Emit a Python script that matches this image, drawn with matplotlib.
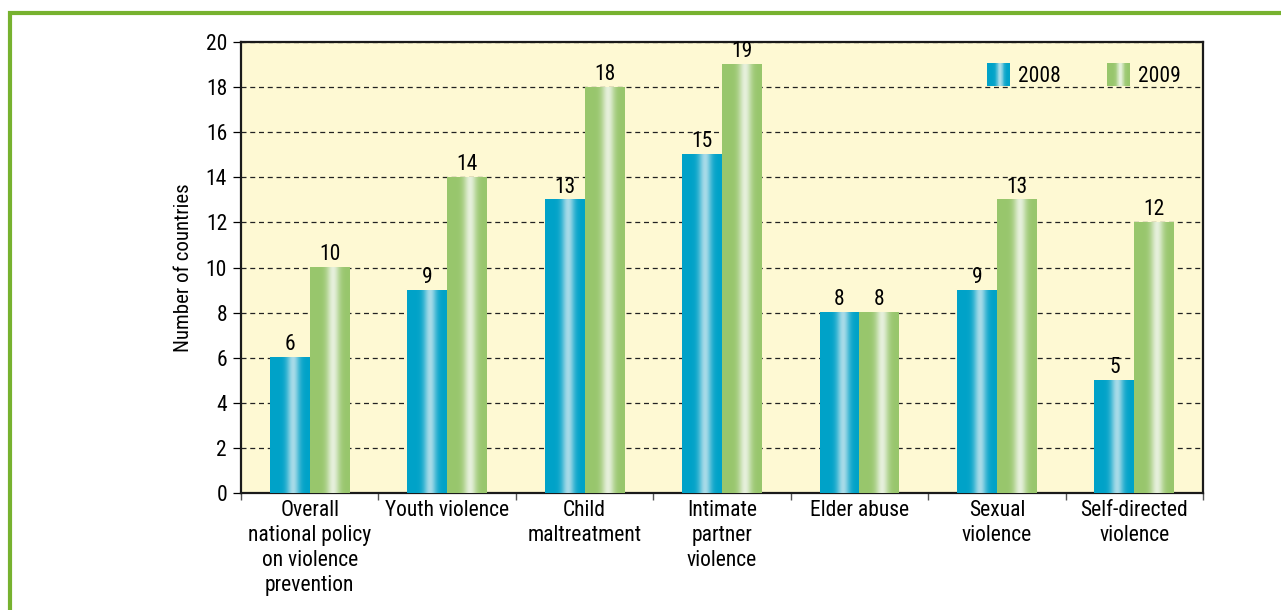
import numpy as np
import matplotlib
matplotlib.use("Agg")
import matplotlib.pyplot as plt
from matplotlib.patches import Rectangle
from matplotlib.legend_handler import HandlerBase
from matplotlib.colors import to_rgb

plt.rcParams['font.family'] = ['Roboto Condensed', 'Liberation Sans Narrow', 'Roboto', 'DejaVu Sans']
plt.rcParams['font.stretch'] = 'condensed'

# data
categories = ["Overall\nnational policy\non violence\nprevention", "Youth violence",
              "Child\nmaltreatment", "Intimate\npartner\nviolence", "Elder abuse",
              "Sexual\nviolence", "Self-directed\nviolence"]
values_2008 = [6, 9, 13, 15, 8, 9, 5]
values_2009 = [10, 14, 18, 19, 8, 13, 12]
series_names = ["2008", "2009"]

# colours: (edge colour, highlight colour)
blue = ("#00a2c8", "#a8dbe8")
green = ("#98c66c", "#e6f0dc")

FS = 15.5


def gradient_colors(base, light, n=60):
    b = np.array(to_rgb(base))
    l = np.array(to_rgb(light))
    t = np.linspace(0, 1, n)
    w = np.exp(-((t - 0.58) / 0.16) ** 2)
    return b[None, :] * (1 - w[:, None]) + l[None, :] * w[:, None]


def fill_gradient(ax, bar, colors):
    x, y = bar.get_x(), bar.get_y()
    w, h = bar.get_width(), bar.get_height()
    img = colors[None, :, :]
    ax.imshow(img, extent=(x, x + w, y, y + h), aspect='auto', zorder=3,
              interpolation='bicubic')


class GradientHandler(HandlerBase):
    def __init__(self, colors):
        super().__init__()
        self.colors = colors

    def create_artists(self, legend, orig_handle, xdescent, ydescent,
                       width, height, fontsize, trans):
        n = len(self.colors)
        size = height * 1.5
        x0 = -xdescent + (width - size) / 2
        y0 = -ydescent + (height - size) / 2
        arts = []
        for i, c in enumerate(self.colors):
            r = Rectangle((x0 + i * size / n, y0), size / n * 1.05, size,
                          facecolor=c, edgecolor='none', transform=trans)
            arts.append(r)
        return arts


fig = plt.figure(figsize=(12.81, 6.10), dpi=100)
ax = fig.add_axes([241 / 1281, 1 - 493 / 610, (1203 - 241) / 1281, (493 - 42) / 610])
ax.set_facecolor("#fef9d3")

x = np.arange(len(categories))
bw = 0.29
bars1 = ax.bar(x - bw / 2, values_2008, bw, color='none', zorder=2)
bars2 = ax.bar(x + bw / 2, values_2009, bw, color='none', zorder=2)

c1 = gradient_colors(*blue)
c2 = gradient_colors(*green)
for b in bars1:
    fill_gradient(ax, b, c1)
for b in bars2:
    fill_gradient(ax, b, c2)

for bars, vals in ((bars1, values_2008), (bars2, values_2009)):
    for b, v in zip(bars, vals):
        ax.text(b.get_x() + b.get_width() / 2, v + 0.1, str(v),
                ha='center', va='bottom', fontsize=FS, zorder=4)

ax.set_xlim(-0.5, len(categories) - 0.5)
ax.set_ylim(0, 20)
ax.set_yticks(range(0, 21, 2))
ax.yaxis.grid(True, linestyle=(0, (4, 3)), color='#222222', linewidth=0.9, zorder=1)
ax.set_axisbelow(True)

ax.set_xticks(x)
ax.set_xticklabels(categories, fontsize=FS, linespacing=1.25)
ax.set_xticks(np.arange(len(categories) + 1) - 0.5, minor=True)
ax.tick_params(axis='x', which='major', length=0, pad=5)
ax.tick_params(axis='x', which='minor', length=5, width=1, color='#555555')
ax.tick_params(axis='y', labelsize=FS, length=6, width=0.9, pad=4)
ax.set_ylabel("Number of countries", fontsize=15, labelpad=9)

for s in ax.spines.values():
    s.set_linewidth(1.6)
    s.set_color('#1a1a1a')

h1 = Rectangle((0, 0), 1, 1)
h2 = Rectangle((0, 0), 1, 1)
leg = ax.legend([h1, h2], series_names, loc='upper right', ncol=2, frameon=False,
                fontsize=FS, handlelength=1.6, handletextpad=0.1, columnspacing=1.9,
                bbox_to_anchor=(0.997, 0.99),
                handler_map={h1: GradientHandler(c1), h2: GradientHandler(c2)})

# green frame
fig.patches.append(Rectangle((10 / 1281, -0.1), 1.2, 1 - 13 / 610 + 0.1,
                             transform=fig.transFigure, fill=False,
                             edgecolor='#77b22f', linewidth=3, zorder=0))

fig.savefig("out.png", dpi=100)
